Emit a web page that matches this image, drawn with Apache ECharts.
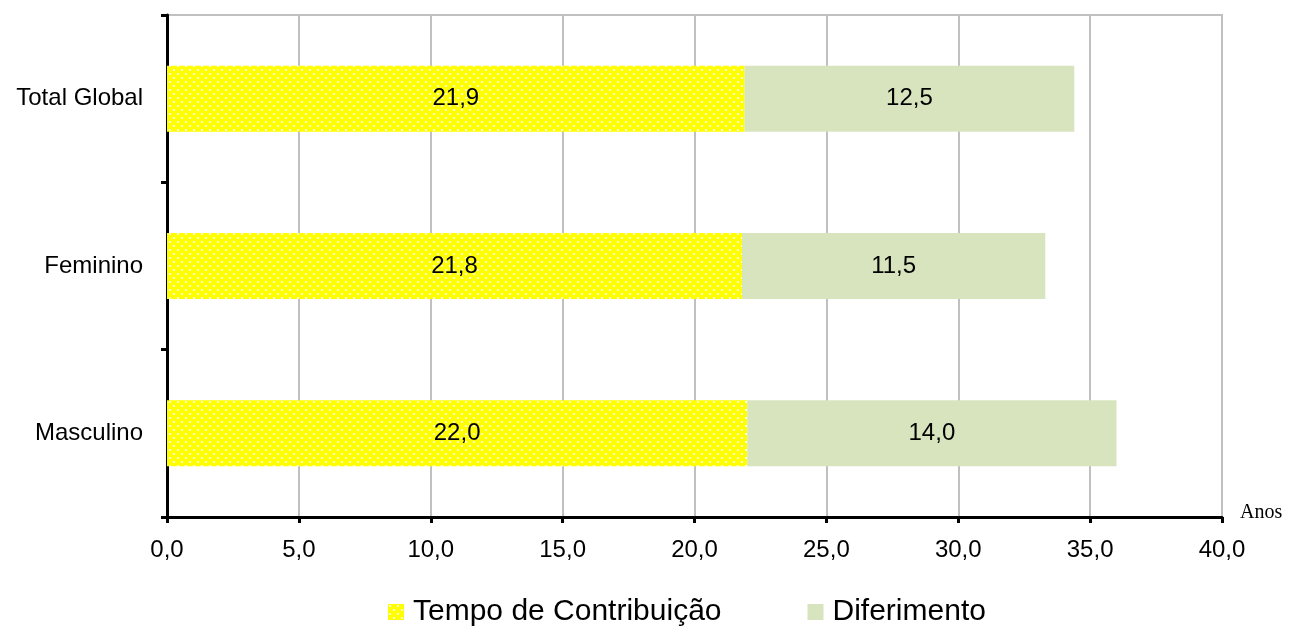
<!DOCTYPE html>
<html><head><meta charset="utf-8">
<script src="https://cdn.jsdelivr.net/npm/echarts@6/dist/echarts.min.js"></script>
<style>html,body{margin:0;padding:0;background:#fff}#c{width:1289px;height:626px}</style>
</head><body><div id="c"></div>
<script>
const categories = ['Masculino', 'Feminino', 'Total Global'];
const tempoContribuicao = [22.0, 21.8, 21.9];
const diferimento = [14.0, 11.5, 12.5];
const seriesNames = ['Tempo de Contribuição', 'Diferimento'];
const axisUnit = 'Anos';

const tile = document.createElement('canvas');
tile.width = 8; tile.height = 8;
const g = tile.getContext('2d');
g.fillStyle = '#ffff00'; g.fillRect(0, 0, 8, 8);
g.fillStyle = '#ffffd8';
g.fillRect(1, 1, 2, 2); g.fillRect(5, 5, 2, 2);
const yellowPattern = { image: tile, repeat: 'repeat' };

const FONT = '"Liberation Sans", Arial, sans-serif';
const fmt = p => p.value.toFixed(1).replace('.', ',');

const chart = echarts.init(document.getElementById('c'));
chart.setOption({
  animation: false,
  grid: { left: 167, right: 67, top: 15, bottom: 109, show: true, borderColor: '#c0c0c0', borderWidth: 2 },
  xAxis: {
    type: 'value', min: 0, max: 40, interval: 5,
    axisLine: { show: true, lineStyle: { color: '#000', width: 3 } },
    axisTick: { show: true, length: 6, lineStyle: { color: '#000', width: 3 } },
    splitLine: { show: true, lineStyle: { color: '#c0c0c0', width: 2 } },
    axisLabel: { color: '#000', fontSize: 24, fontFamily: FONT, margin: 21, formatter: v => v.toFixed(1).replace('.', ',') }
  },
  yAxis: {
    type: 'category', data: categories,
    axisLine: { show: true, lineStyle: { color: '#000', width: 3 } },
    axisTick: { show: true, length: 6, lineStyle: { color: '#000', width: 3 } },
    axisLabel: { color: '#000', fontSize: 24, fontFamily: FONT, margin: 24 },
    splitLine: { show: false }
  },
  legend: {
    top: 592, left: 383, itemWidth: 16, itemHeight: 16, itemGap: 86, icon: 'rect',
    textStyle: { fontSize: 30, fontFamily: FONT, color: '#000', padding: [0, 0, 0, 4] },
    data: seriesNames
  },
  graphic: [{ type: 'text', left: 1240, top: 503, style: { text: axisUnit, font: '20px "Liberation Serif", "Times New Roman", serif', fill: '#000' } }],
  series: [
    { name: seriesNames[0], type: 'bar', stack: 's', data: tempoContribuicao, barWidth: 66,
      itemStyle: { color: yellowPattern },
      label: { show: true, position: 'inside', color: '#000', fontSize: 24, fontFamily: FONT, formatter: fmt } },
    { name: seriesNames[1], type: 'bar', stack: 's', data: diferimento, barWidth: 66,
      itemStyle: { color: '#d7e4bd' },
      label: { show: true, position: 'inside', color: '#000', fontSize: 24, fontFamily: FONT, formatter: fmt } }
  ]
});
</script></body></html>
